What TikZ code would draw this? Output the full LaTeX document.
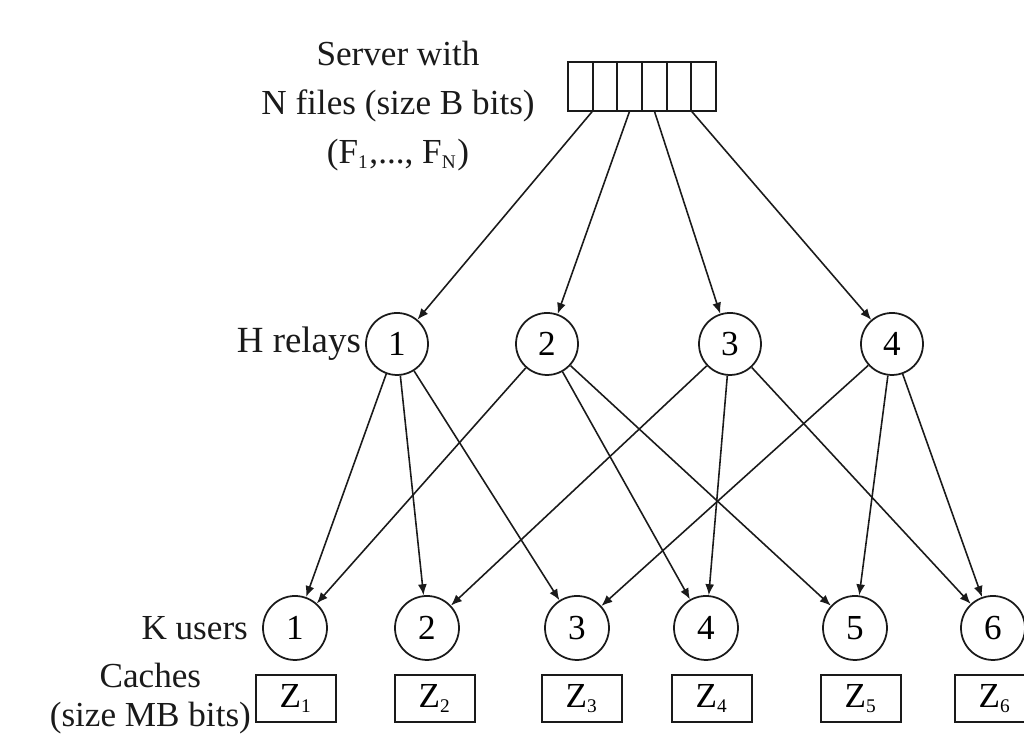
\documentclass[tikz,border=0pt]{standalone}
\usepackage{fontspec}
\setmainfont{Liberation Serif}
\usetikzlibrary{arrows.meta,positioning}
\definecolor{ink}{HTML}{1A1A1A}
\newcommand{\tinysub}[1]{\textsubscript{\fontsize{5.5}{6}\selectfont #1}}
\tikzset{
  relay/.style={draw=ink,circle,line width=0.5pt,minimum size=0.62cm,
                inner sep=0pt,font=\fontsize{10}{12}\selectfont},
  user/.style={relay,minimum size=0.64cm},
  cache/.style={draw=ink,line width=0.5pt,minimum width=0.8cm,
                minimum height=0.47cm,inner sep=0pt,font=\fontsize{10}{12}\selectfont},
  filecell/.style={draw=ink,line width=0.5pt,minimum width=0.2467cm,
                   minimum height=0.49cm,inner sep=0pt,outer sep=0pt},
  tag/.style={inner sep=1pt,text=ink,font=\fontsize{10}{12}\selectfont},
  linkarr/.style={-{Latex[length=1.1mm,width=0.9mm]},line width=0.45pt,draw=ink}
}
\begin{document}
\begin{tikzpicture}
  \useasboundingbox (0,0) rectangle (10.24,7.37);
  % server and its row of files
  \foreach \i in {1,...,6}
    \node[filecell] (f\i) at ({5.68+0.2467*(\i-0.5)},6.505) {};
  \node[tag,align=center,font=\fontsize{10}{14}\selectfont] (srv) at (3.98,6.31)
    {Server with\\N files (size B bits)\\(F\tinysub{1},..., F\tinysub{N})};
  % relays
  \foreach \n/\x in {1/3.97,2/5.47,3/7.30,4/8.92}
    \node[relay] (r\n) at (\x,3.93) {\n};
  \node[tag,left=0pt of r1,font=\fontsize{10.5}{12}\selectfont] (hlab) {H relays};
  % users with their caches underneath
  \foreach \n/\x/\z in {1/2.95/2.96,2/4.27/4.35,3/5.77/5.82,4/7.06/7.12,5/8.55/8.61,6/9.93/9.95} {
    \node[user] (u\n) at (\x,1.09) {\n};
    \node[cache] (z\n) at (\z,0.385) {Z\tinysub{\n}};
  }
  \node[tag,left=0.1cm of u1] (klab) {K users};
  \node[tag,align=center,left=0pt of z1,font=\fontsize{10}{11}\selectfont] (clab)
    {Caches\\(size MB bits)};
  % server -> relays
  \draw[linkarr] (f2.south west) -- (r1);
  \draw[linkarr] (f3.south) -- (r2);
  \draw[linkarr] (f4.south) -- (r3);
  \draw[linkarr] (f5.south east) -- (r4);
  % relays -> users, one user per pair of relays
  \foreach \a/\b in {1/1,1/2,1/3,2/1,2/4,2/5,3/2,3/4,3/6,4/3,4/5,4/6}
    \draw[linkarr] (r\a) -- (u\b);
\end{tikzpicture}
\end{document}
